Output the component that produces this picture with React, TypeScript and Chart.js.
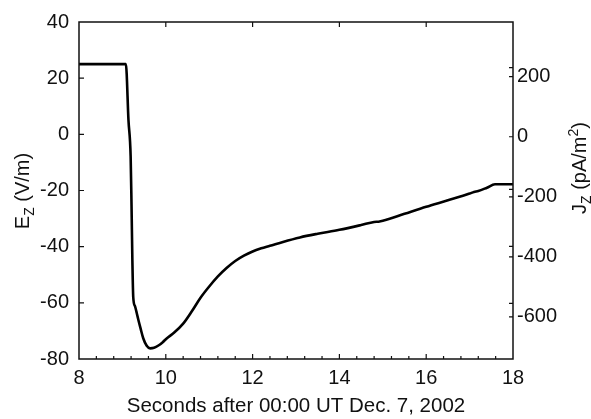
import React, { useEffect, useRef } from "react";
import { Chart, registerables } from "chart.js";

Chart.register(...registerables);

// Time (seconds after 00:00 UT Dec. 7, 2002)
const times = [
  8, 9.08, 9.14, 9.19, 9.21, 9.23, 9.25, 9.29, 9.33, 9.37, 9.42, 9.48, 9.56, 9.64,
  9.73, 9.83, 9.93, 10.02, 10.2, 10.4, 10.6, 10.8, 11.0, 11.2, 11.4, 11.6,
  11.8, 12.0, 12.2, 12.4, 12.7, 13.09, 13.5, 14.0, 14.5, 14.8, 14.9, 15.0,
  15.5, 16.0, 16.5, 17.0, 17.1, 17.2, 17.4, 17.585, 18,
];
// E_z (V/m)
const ezValues = [
  25, 25, 5, -8, -25, -45, -58, -61.2, -63.6, -66.2, -69.2, -72.6, -75.3, -76.2,
  -76, -75.2, -74, -72.7, -70.5, -67.4, -63.0, -58.2, -54.2, -50.6, -47.6, -45.1,
  -43.2, -41.7, -40.6, -39.7, -38.3, -36.7, -35.4, -34, -32.3, -31.2, -31.1, -30.8,
  -28.3, -25.8, -23.5, -21.1, -20.5, -20.2, -19, -17.8, -17.8,
];
const xTicks = [8, 10, 12, 14, 16, 18];
const yTicks = [-80, -60, -40, -20, 0, 20, 40];
const jTicks = [-600, -400, -200, 0, 200];
const jExtraTicks = [-555, -365, -175, 230];

const FONT = "'Liberation Sans', Arial, Helvetica, sans-serif";

const framePlugin = {
  id: "frame",
  afterDraw(chart: any) {
    const { ctx, chartArea } = chart;
    const { left, right, top, bottom } = chartArea;
    const xs = chart.scales.x;
    const ys = chart.scales.y;
    const js = chart.scales.y1;
    ctx.save();
    ctx.strokeStyle = "#111";
    ctx.lineWidth = 1.5;
    ctx.strokeRect(left, top, right - left, bottom - top);
    ctx.lineWidth = 1.2;
    ctx.beginPath();
    // bottom major / minor ticks (inward)
    for (let v = 8.4; v < 17.9; v += 0.4) {
      const px = xs.getPixelForValue(v);
      const isMajor = Math.abs(v / 2 - Math.round(v / 2)) < 0.01;
      ctx.moveTo(px, bottom);
      ctx.lineTo(px, bottom - (isMajor ? 5 : 3));
    }
    // top major ticks
    for (const v of xTicks) {
      if (v === 8 || v === 18) continue;
      const px = xs.getPixelForValue(v);
      ctx.moveTo(px, top);
      ctx.lineTo(px, top + 5);
    }
    // left ticks
    for (const v of yTicks) {
      if (v === -80 || v === 40) continue;
      const py = ys.getPixelForValue(v);
      ctx.moveTo(left, py);
      ctx.lineTo(left + 5, py);
    }
    // right ticks
    for (const v of [...jTicks, ...jExtraTicks]) {
      const py = js.getPixelForValue(v);
      ctx.moveTo(right, py);
      ctx.lineTo(right - 4, py);
    }
    ctx.stroke();

    // titles
    ctx.fillStyle = "#111";
    const big = `20px ${FONT}`;
    const xFont = `20.5px ${FONT}`;
    const small = `14px ${FONT}`;
    // x title
    ctx.font = xFont;
    ctx.textAlign = "center";
    ctx.textBaseline = "alphabetic";
    ctx.fillText("Seconds after 00:00 UT Dec. 7, 2002", (left + right) / 2, 412);

    const drawRot = (
      parts: { t: string; f: string; dy: number }[],
      cx: number,
      cy: number
    ) => {
      ctx.save();
      ctx.translate(cx, cy);
      ctx.rotate(-Math.PI / 2);
      ctx.textAlign = "left";
      let total = 0;
      for (const p of parts) {
        ctx.font = p.f;
        total += ctx.measureText(p.t).width;
      }
      let x = -total / 2;
      for (const p of parts) {
        ctx.font = p.f;
        ctx.fillText(p.t, x, p.dy);
        x += ctx.measureText(p.t).width;
      }
      ctx.restore();
    };
    drawRot(
      [
        { t: "E", f: big, dy: 0 },
        { t: "Z", f: small, dy: 5 },
        { t: " (V/m)", f: big, dy: 0 },
      ],
      28.5,
      191
    );
    drawRot(
      [
        { t: "J", f: big, dy: 0 },
        { t: "Z", f: small, dy: 5 },
        { t: " (pA/m", f: big, dy: 0 },
        { t: "2", f: small, dy: -8 },
        { t: ")", f: big, dy: 0 },
      ],
      586,
      168
    );
    ctx.restore();
  },
};

export default function App() {
  const ref = useRef<HTMLCanvasElement>(null);
  useEffect(() => {
    if (!ref.current) return;
    const pts = times.map((t, i) => ({ x: t, y: ezValues[i] }));
    const chart = new Chart(ref.current, {
      type: "line",
      data: {
        datasets: [
          {
            label: "Ez",
            data: pts,
            borderColor: "#000",
            borderWidth: 2.6,
            pointRadius: 0,
            fill: false,
            cubicInterpolationMode: "monotone",
            yAxisID: "y",
          },
          {
            label: "Jz",
            data: [],
            yAxisID: "y1",
            pointRadius: 0,
          },
        ],
      },
      options: {
        animation: false,
        responsive: true,
        maintainAspectRatio: false,
        layout: { padding: { left: 0, right: 0, top: 20, bottom: 0 } },
        plugins: { legend: { display: false }, tooltip: { enabled: false } },
        scales: {
          x: {
            type: "linear",
            min: 8,
            max: 18,
            afterBuildTicks: (s: any) => {
              s.ticks = xTicks.map((v) => ({ value: v }));
            },
            afterFit: (s: any) => {
              s.height = 60;
            },
            grid: { display: false, drawTicks: false },
            border: { display: false },
            ticks: {
              color: "#111",
              font: { size: 20, family: FONT },
              padding: 7,
              maxRotation: 0,
            },
          },
          y: {
            type: "linear",
            position: "left",
            min: -80,
            max: 40,
            afterBuildTicks: (s: any) => {
              s.ticks = yTicks.map((v) => ({ value: v }));
            },
            afterFit: (s: any) => {
              s.width = 79;
            },
            grid: { display: false, drawTicks: false },
            border: { display: false },
            ticks: {
              color: "#111",
              font: { size: 20, family: FONT },
              padding: 10,
            },
          },
          y1: {
            type: "linear",
            position: "right",
            min: -740,
            max: 382,
            afterBuildTicks: (s: any) => {
              s.ticks = jTicks.map((v) => ({ value: v }));
            },
            afterFit: (s: any) => {
              s.width = 78;
            },
            grid: { display: false, drawTicks: false },
            border: { display: false },
            ticks: {
              color: "#111",
              font: { size: 20, family: FONT },
              padding: 4,
            },
          },
        },
      },
      plugins: [framePlugin],
    });
    return () => chart.destroy();
  }, []);
  return (
    <div
      style={{
        position: "absolute",
        left: 0,
        top: 0,
        width: 591,
        height: 419,
        background: "#fff",
      }}
    >
      <canvas ref={ref} />
    </div>
  );
}
